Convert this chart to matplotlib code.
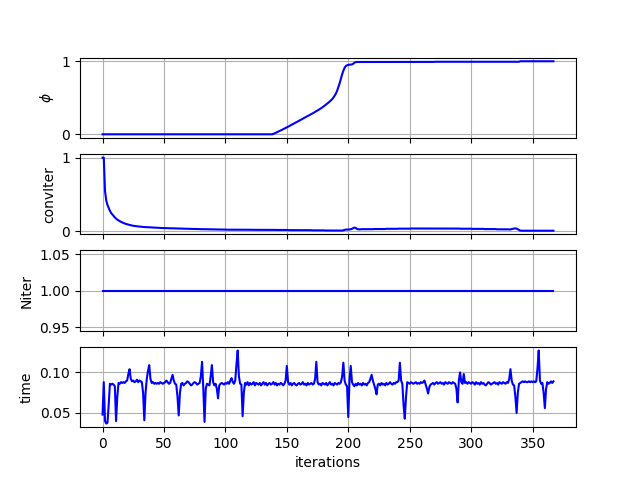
import numpy as np
import matplotlib
matplotlib.use("Agg")
import matplotlib.pyplot as plt

# ---- data ----
phi = ([0.0] * 138 +
       [0.0, 0.005, 0.012, 0.020, 0.028, 0.036, 0.044, 0.053, 0.061, 0.070,
        0.078, 0.087, 0.095, 0.104, 0.113, 0.122, 0.131, 0.140, 0.149, 0.158,
        0.167, 0.176, 0.185, 0.195, 0.204, 0.214, 0.223, 0.232, 0.241, 0.250,
        0.259, 0.268, 0.277, 0.287, 0.296, 0.306, 0.316, 0.326, 0.336, 0.347,
        0.358, 0.370, 0.382, 0.395, 0.408, 0.422, 0.436, 0.450, 0.466, 0.483,
        0.505, 0.530, 0.560, 0.600, 0.650, 0.700, 0.760, 0.820, 0.870, 0.910,
        0.935, 0.945, 0.950, 0.952, 0.955, 0.957, 0.965, 0.980, 0.988, 0.990,
        0.990, 0.990, 0.990] +
       [0.991] * 60 + [0.993] * 69 + [1.0] * 28)

conv_iter = ([1.0, 1.0, 0.55, 0.42, 0.36, 0.32, 0.28, 0.25, 0.23, 0.21,
              0.19, 0.175, 0.16, 0.15, 0.14, 0.13, 0.122, 0.115, 0.108, 0.102,
              0.097, 0.092, 0.088, 0.084, 0.080, 0.077, 0.074, 0.072, 0.070, 0.068,
              0.066, 0.064, 0.063, 0.061, 0.060, 0.059, 0.058, 0.057, 0.056, 0.055,
              0.054, 0.053, 0.052, 0.051, 0.050, 0.049, 0.048, 0.048, 0.047, 0.046,
              0.046, 0.045, 0.045, 0.044, 0.044, 0.043, 0.043, 0.042, 0.042, 0.041,
              0.041] +
             [0.040, 0.040, 0.039, 0.039, 0.038, 0.038, 0.037, 0.037, 0.036, 0.036,
              0.035, 0.035, 0.034, 0.034, 0.033, 0.033, 0.033, 0.032, 0.032, 0.031,
              0.031, 0.031, 0.030, 0.030, 0.030, 0.029, 0.029, 0.029, 0.028, 0.028,
              0.028, 0.027, 0.027, 0.027, 0.026, 0.026, 0.026, 0.026, 0.025, 0.025] +
             [0.024] * 10 + [0.023] * 10 + [0.022] * 10 + [0.021] * 10 + [0.020] * 10 +
             [0.018] * 10 + [0.017] * 10 + [0.015] * 10 + [0.013] * 10 + [0.012] * 5 +
             [0.015, 0.022, 0.025, 0.025, 0.026, 0.028, 0.030, 0.035, 0.045, 0.052,
              0.048, 0.035, 0.030, 0.028, 0.030] +
             [0.031] * 10 + [0.033] * 10 + [0.036] * 10 + [0.038] * 10 + [0.040] * 10 +
             [0.041] * 10 + [0.040] * 10 + [0.039] * 10 + [0.037] * 10 + [0.035] * 10 +
             [0.032] * 10 + [0.029] * 10 +
             [0.027, 0.028, 0.032, 0.037, 0.040, 0.041, 0.038, 0.030, 0.020, 0.012,
              0.010] +
             [0.010] * 26)

n_iter = [1.0] * 368

time_vals = [
    0.048, 0.088, 0.040, 0.037, 0.038, 0.060, 0.086, 0.085, 0.086, 0.085,
    0.083, 0.040, 0.070, 0.087, 0.086, 0.088, 0.087, 0.088, 0.087, 0.089,
    0.090, 0.098, 0.104, 0.092, 0.089, 0.090, 0.088, 0.089, 0.091, 0.088,
    0.090, 0.089, 0.088, 0.075, 0.041, 0.075, 0.092, 0.102, 0.109, 0.092,
    0.087, 0.088, 0.086, 0.087, 0.086, 0.087, 0.086, 0.088, 0.087, 0.086,
    0.087, 0.088, 0.090, 0.088, 0.086, 0.087, 0.092, 0.097, 0.090, 0.086,
    0.085, 0.070, 0.047, 0.075, 0.086, 0.087, 0.084, 0.086, 0.087, 0.089,
    0.088, 0.086, 0.084, 0.085, 0.087, 0.088, 0.087, 0.085, 0.086, 0.087,
    0.095, 0.113, 0.080, 0.039, 0.080, 0.086, 0.085, 0.084, 0.095, 0.109,
    0.088, 0.084, 0.086, 0.080, 0.068, 0.084, 0.086, 0.087, 0.086, 0.085,
    0.087, 0.086, 0.088, 0.086, 0.090, 0.093, 0.088, 0.086, 0.090, 0.110,
    0.127, 0.095, 0.086, 0.085, 0.046, 0.075, 0.087, 0.085, 0.088, 0.084,
    0.087, 0.085, 0.086, 0.088, 0.084, 0.087, 0.086, 0.085, 0.087, 0.084,
    0.086, 0.088, 0.085, 0.087, 0.084, 0.086, 0.087, 0.085, 0.086, 0.088,
    0.085, 0.087, 0.084, 0.086, 0.085, 0.087, 0.086, 0.084, 0.086, 0.090,
    0.108, 0.088, 0.085, 0.087, 0.084, 0.086, 0.087, 0.085, 0.084, 0.086,
    0.087, 0.085, 0.086, 0.088, 0.085, 0.086, 0.084, 0.087, 0.085, 0.086,
    0.087, 0.085, 0.086, 0.092, 0.113, 0.088, 0.085, 0.086, 0.084, 0.087,
    0.086, 0.085, 0.087, 0.084, 0.086, 0.088, 0.085, 0.086, 0.084, 0.087,
    0.086, 0.085, 0.087, 0.086, 0.088, 0.095, 0.112, 0.090, 0.085, 0.083,
    0.045, 0.090, 0.108, 0.088, 0.085, 0.083, 0.086, 0.084, 0.087, 0.085,
    0.086, 0.084, 0.087, 0.085, 0.086, 0.084, 0.087, 0.088, 0.092, 0.097,
    0.090, 0.085, 0.080, 0.073, 0.085, 0.086, 0.084, 0.087, 0.085, 0.086,
    0.084, 0.087, 0.085, 0.086, 0.088, 0.086, 0.085, 0.087, 0.086, 0.088,
    0.088, 0.090, 0.112, 0.090, 0.086, 0.060, 0.043, 0.070, 0.088, 0.087,
    0.086, 0.088, 0.087, 0.086, 0.087, 0.088, 0.086, 0.087, 0.086, 0.088,
    0.087, 0.088, 0.090, 0.085, 0.080, 0.074, 0.082, 0.085, 0.086, 0.087,
    0.085, 0.087, 0.088, 0.086, 0.087, 0.088, 0.086, 0.087, 0.085, 0.088,
    0.087, 0.086, 0.088, 0.087, 0.086, 0.088, 0.087, 0.086, 0.080, 0.063,
    0.090, 0.100, 0.088, 0.086, 0.098, 0.087, 0.088, 0.086, 0.088, 0.087,
    0.086, 0.088, 0.087, 0.085, 0.088, 0.086, 0.087, 0.085, 0.088, 0.086,
    0.087, 0.085, 0.084, 0.086, 0.088, 0.087, 0.085, 0.086, 0.087, 0.088,
    0.086, 0.087, 0.085, 0.088, 0.087, 0.086, 0.088, 0.087, 0.086, 0.088,
    0.087, 0.092, 0.104, 0.090, 0.085, 0.084, 0.070, 0.050, 0.075, 0.086,
    0.087, 0.088, 0.089, 0.088, 0.089, 0.088, 0.088, 0.089, 0.088, 0.089,
    0.088, 0.089, 0.088, 0.089, 0.105, 0.127, 0.090, 0.086, 0.087, 0.075,
    0.056, 0.080, 0.088, 0.086, 0.087, 0.089, 0.087, 0.089,
]

iterations = np.arange(len(time_vals))

ylabels = [r'$\phi$', 'convIter', 'Niter', 'time']
series = [phi, conv_iter, n_iter, time_vals]
yticks = [[0, 1], [0, 1], None, [0.05, 0.10]]

fig, axes = plt.subplots(4, 1, sharex=True, figsize=(6.4, 4.8), dpi=100)
for ax, y, lab, yt in zip(axes, series, ylabels, yticks):
    ax.plot(iterations, y, color='b')
    ax.set_ylabel(lab)
    ax.grid(True)
    if yt is not None:
        ax.set_yticks(yt)
axes[-1].set_xlabel('iterations')

fig.savefig('out.png', dpi=100)
